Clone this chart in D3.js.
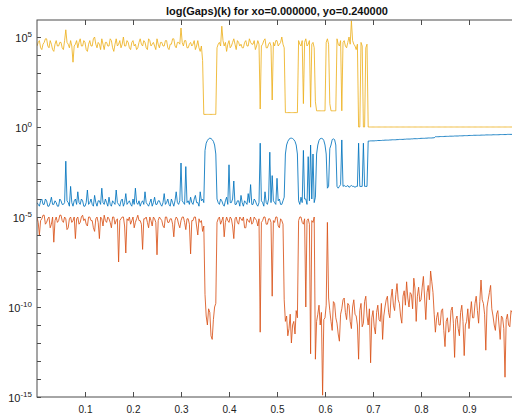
<!DOCTYPE html>
<html><head><meta charset="utf-8">
<script src="https://cdn.jsdelivr.net/npm/d3@7/dist/d3.min.js"></script>
<style>
html,body{margin:0;padding:0;background:#fff;}
svg{display:block;font-family:"Liberation Sans",Arial,Helvetica,sans-serif;}
</style></head>
<body><svg id="chart" width="512" height="415"></svg>
<script>
// Sampling of k (x axis)
const xStart = 0, xStep = 0.0025;
const xTicks = [0.1,0.2,0.3,0.4,0.5,0.6,0.7,0.8,0.9];
const yTickExps = [5,0,-5,-10,-15];
const titleText = "log(Gaps)(k) for xo=0.000000, yo=0.240000";
const seriesColors = ["#0072BD","#D95319","#EDB120"];

// log10 of the values
const blueLog10 = [
-4.2,-4.3,-4.4,-4.1,-4.0,-4.3,-4.3,-4.0,-4.1,-4.4,-4.4,-4.2,-3.9,-4.3,-4.3,-4.1,-4.2,-4.4,-4.4,-4.0,
-4.1,-4.3,-4.3,-4.2,-1.9,-4.1,-4.2,-4.4,-3.3,-4.2,-4.4,-4.1,-4.0,-4.3,-3.6,-4.2,-4.3,-4.0,-4.1,-4.4,
-4.4,-4.2,-3.5,-4.3,-4.2,-4.0,-4.3,-4.4,-3.8,-4.2,-4.4,-4.1,-4.1,-4.3,-3.4,-4.2,-4.3,-4.0,-4.2,-4.4,
-3.9,-4.3,-4.4,-4.1,-4.2,-4.3,-3.5,-4.2,-4.3,-4.4,-4.1,-4.0,-4.4,-4.2,-3.7,-4.3,-4.2,-4.1,-4.3,-4.4,
-4.0,-4.3,-3.4,-4.2,-4.3,-4.1,-4.4,-4.2,-4.1,-4.3,-3.6,-4.2,-4.3,-4.4,-4.2,-4.0,-4.4,-4.2,-3.9,-4.3,
-4.3,-4.1,-4.1,-4.3,-4.4,-4.2,-3.7,-4.3,-4.2,-4.0,-4.3,-4.4,-4.0,-4.2,-4.4,-4.1,-3.6,-4.2,-4.3,-4.1,
-2.0,-4.1,-4.2,-4.3,-2.2,-4.2,-4.1,-4.3,-3.9,-4.2,-4.3,-4.0,-3.8,-4.2,-4.2,-4.4,-3.6,-4.1,-4.0,-4.2,
-1.3,-0.9,-0.75,-0.66,-0.62,-0.64,-0.7,-0.8,-1.0,-1.5,-4.0,-4.2,-4.3,-4.0,-4.1,-4.3,-4.4,-4.1,-3.9,-4.3,
-2.1,-4.2,-4.2,-4.0,-3.0,-4.3,-4.3,-4.1,-4.1,-4.4,-3.8,-4.2,-4.4,-4.1,-4.2,-4.3,-3.7,-4.2,-3.2,-4.3,
-4.3,-4.0,-4.1,-4.3,-4.4,-4.2,-0.9,-4.1,-4.2,-4.4,-3.6,-4.2,-4.3,-4.0,-1.4,-4.2,-2.7,-4.1,-4.2,-4.3,
-2.85,-4.1,-4.0,-4.3,-4.3,-4.1,-3.9,-1.5,-1.0,-0.8,-0.68,-0.63,-0.62,-0.64,-0.7,-0.8,-1.0,-1.5,-4.1,-4.3,
-3.9,-4.2,-1.3,-4.0,-4.0,-4.3,-1.65,-4.1,-1.0,-4.0,-1.5,-4.2,-3.9,-1.5,-1.0,-0.75,-0.65,-0.63,-0.65,-0.75,
-1.0,-1.5,-3.4,-3.3,-1.2,-1.0,-0.7,-0.66,-0.7,-1.0,-3.3,-3.4,-3.3,-3.2,-0.72,-3.3,-3.25,-3.3,-3.3,-3.25,
-3.35,-3.3,-3.25,-3.3,-3.3,-3.35,-3.3,-3.3,-0.9,-3.3,-3.3,-3.3,-0.9,-3.3,-3.3,-3.3,-0.78,-0.78,-0.77,-0.77,
-0.77,-0.77,-0.76,-0.76,-0.75,-0.75,-0.75,-0.75,-0.74,-0.74,-0.73,-0.73,-0.73,-0.73,-0.72,-0.72,-0.71,-0.71,-0.71,-0.71,
-0.70,-0.70,-0.69,-0.69,-0.69,-0.69,-0.68,-0.68,-0.67,-0.67,-0.67,-0.67,-0.66,-0.66,-0.65,-0.65,-0.65,-0.65,-0.64,-0.64,
-0.63,-0.63,-0.63,-0.63,-0.62,-0.62,-0.61,-0.61,-0.61,-0.61,-0.60,-0.60,-0.54,-0.54,-0.54,-0.54,-0.53,-0.53,-0.53,-0.53,
-0.52,-0.52,-0.52,-0.52,-0.51,-0.51,-0.51,-0.51,-0.50,-0.50,-0.50,-0.50,-0.49,-0.49,-0.49,-0.49,-0.48,-0.48,-0.48,-0.48,
-0.47,-0.47,-0.47,-0.47,-0.46,-0.46,-0.46,-0.46,-0.46,-0.46,-0.45,-0.45,-0.45,-0.45,-0.44,-0.44,-0.44,-0.44,-0.44,-0.44,
-0.43,-0.43,-0.43,-0.43,-0.43,-0.43,-0.42,-0.42,-0.42,-0.42,-0.42,-0.42,-0.41,-0.41,-0.41,-0.41,-0.41,-0.41,-0.40,-0.40
];
const orangeLog10 = [
-5.0,-5.3,-6.0,-5.2,-5.1,-4.9,-4.9,-5.4,-5.3,-5.1,-5.0,-5.6,-5.4,-5.0,-6.4,-5.2,-5.0,-5.3,-5.2,-4.9,
-4.9,-5.2,-5.3,-5.0,-5.1,-5.7,-5.6,-5.1,-5.0,-5.3,-5.2,-5.0,-6.2,-5.1,-5.0,-5.4,-5.3,-5.0,-4.9,-5.2,
-5.1,-5.4,-5.5,-5.0,-5.0,-5.2,-5.2,-5.6,-5.8,-5.1,-5.0,-5.3,-6.2,-5.0,-5.1,-5.5,-4.9,-5.2,-5.3,-5.0,
-5.1,-5.3,-5.6,-5.0,-5.0,-5.4,-5.2,-5.1,-7.5,-5.2,-5.1,-5.0,-5.0,-5.5,-7.0,-5.1,-5.2,-5.0,-5.4,-5.2,
-5.0,-5.6,-5.3,-5.1,-4.9,-5.2,-5.2,-5.4,-6.8,-5.1,-5.1,-5.0,-5.3,-5.6,-5.0,-5.2,-5.5,-5.0,-5.1,-5.3,
-7.1,-5.2,-5.0,-5.1,-5.2,-5.5,-5.6,-5.0,-5.0,-5.3,-5.3,-5.1,-5.1,-5.4,-6.1,-5.2,-5.0,-5.1,-5.4,-5.6,
-5.2,-5.0,-5.0,-5.3,-5.7,-5.1,-5.1,-5.4,-7.05,-5.2,-5.2,-5.0,-5.0,-5.5,-6.0,-5.1,-5.3,-5.2,-5.8,-5.5,
-9.3,-10.5,-11.0,-10.1,-10.3,-11.6,-11.8,-10.7,-10.0,-9.8,-5.3,-5.1,-5.0,-5.4,-5.2,-5.0,-6.1,-5.3,-5.0,-5.2,
-5.3,-5.0,-5.1,-5.5,-6.2,-5.1,-5.0,-5.3,-5.4,-5.0,-5.1,-5.2,-5.0,-5.6,-5.6,-5.1,-5.2,-5.3,-5.0,-5.4,
-5.3,-5.0,-5.1,-5.2,-5.5,-5.1,-11.4,-5.3,-5.2,-5.0,-5.0,-5.4,-5.4,-5.1,-5.1,-5.3,-9.4,-5.2,-5.3,-5.0,
-5.0,-5.5,-5.6,-5.1,-5.2,-5.4,-9.6,-10.8,-10.5,-11.6,-11.2,-10.4,-12.0,-11.0,-10.8,-11.5,-10.2,-10.6,-5.2,-5.0,
-5.0,-5.3,-5.4,-5.1,-10.0,-5.2,-5.1,-5.4,-12.6,-5.2,-5.3,-5.0,-12.9,-10.8,-10.4,-9.9,-11.0,-10.3,-14.9,-10.7,
-10.6,-9.9,-5.3,-9.5,-10.2,-10.8,-11.3,-9.7,-9.8,-10.6,-10.9,-11.5,-11.9,-10.4,-10.1,-9.6,-9.5,-10.3,-10.7,-9.8,
-9.9,-10.8,-11.2,-10.0,-9.6,-10.4,-10.5,-11.0,-12.9,-10.2,-9.8,-11.1,-10.9,-9.7,-9.4,-10.5,-11.0,-10.1,-13.1,-10.6,
-10.2,-11.1,-11.5,-10.3,-9.9,-10.7,-10.8,-9.8,-11.8,-10.5,-10.0,-9.6,-9.4,-10.3,-10.6,-9.5,-9.0,-9.9,-10.2,-9.3,
-8.7,-9.6,-9.8,-10.5,-10.9,-9.4,-9.1,-9.9,-8.6,-9.5,-10.0,-9.2,-9.3,-10.1,-8.4,-9.0,-10.8,-9.4,-8.9,-9.7,
-9.6,-8.9,-8.3,-9.5,-10.7,-9.2,-8.8,-9.6,-8.0,-8.6,-9.2,-10.4,-11.4,-10.6,-10.3,-11.0,-11.0,-10.2,-10.1,-11.3,
-12.2,-10.8,-10.6,-11.4,-11.3,-10.2,-10.0,-10.9,-12.8,-10.7,-10.5,-11.2,-11.6,-10.3,-9.9,-10.8,-12.7,-11.0,-10.8,-10.1,
-11.2,-10.4,-9.7,-10.6,-10.6,-9.8,-9.4,-10.2,-10.9,-9.7,-8.5,-9.6,-9.8,-10.4,-12.4,-10.0,-9.6,-9.2,-8.8,-10.1,
-10.5,-11.0,-11.3,-10.4,-10.2,-11.0,-11.8,-10.5,-10.6,-11.2,-13.9,-10.7,-10.4,-11.0,-11.1,-10.2,-10.3,-10.9,-10.8,-10.5
];
const yellowLog10 = [
4.5,4.7,4.8,4.4,4.3,4.6,4.7,4.9,4.9,4.5,4.4,4.8,4.6,4.3,4.2,4.6,4.8,4.5,4.5,4.7,
4.7,4.4,4.3,4.8,5.4,4.7,4.6,4.4,4.8,4.5,3.6,4.5,4.6,4.8,4.4,4.7,4.9,4.5,4.5,4.8,
4.7,4.3,4.2,4.6,4.8,4.5,4.5,4.9,5.0,4.6,4.4,4.7,4.6,4.3,4.9,4.6,4.3,4.7,4.7,4.5,
4.5,4.9,4.8,4.4,4.2,4.6,4.9,4.5,4.6,4.8,4.4,4.6,5.0,4.5,4.5,4.8,4.7,4.4,4.3,4.7,
4.8,4.5,4.6,4.3,4.4,4.7,4.9,4.6,4.5,4.8,4.7,4.4,4.3,4.9,4.8,4.5,4.6,4.7,4.5,4.3,
4.9,4.6,4.4,4.7,4.7,4.5,4.5,4.8,4.8,4.4,4.3,4.6,4.6,4.9,4.9,4.5,4.4,4.7,4.7,4.6,
5.5,4.7,4.5,4.8,4.8,4.4,4.4,4.6,4.7,4.5,4.6,4.8,4.3,4.5,4.8,4.4,4.2,4.5,3.7,0.7,
0.7,0.7,0.7,0.7,0.7,0.7,0.7,0.7,0.7,0.7,4.4,4.6,4.7,4.5,5.6,4.8,4.5,4.7,4.2,4.6,
4.8,4.4,4.5,4.7,4.9,4.6,4.3,4.8,4.7,4.5,4.6,4.4,4.4,4.7,4.8,4.5,4.5,4.9,4.7,4.6,
4.6,4.8,4.3,4.5,4.8,4.6,1.0,4.5,4.6,4.8,4.9,4.4,4.4,4.6,4.7,4.5,1.5,4.7,4.5,4.8,
4.8,4.5,4.6,4.7,5.0,4.6,4.4,0.8,0.8,0.8,0.8,0.8,0.8,0.8,0.8,0.8,0.8,0.8,4.8,4.6,
4.5,4.8,1.3,4.7,4.9,4.5,4.6,4.8,1.1,4.6,4.7,4.4,1.4,0.9,0.9,0.9,0.9,0.9,0.9,0.9,
0.9,4.7,4.9,4.6,1.3,0.9,0.9,0.9,0.9,0.9,4.9,4.6,4.5,4.8,0.9,4.7,4.8,4.5,4.4,4.7,
5.0,4.6,5.9,4.8,4.6,4.5,4.3,4.6,0.0,0.0,4.7,4.5,0.0,0.0,4.4,4.6,0.0,0.0,0.0,0.0,
0,0,0,0,0,0,0,0,0,0,0,0,0,0,0,0,0,0,0,0,
0,0,0,0,0,0,0,0,0,0,0,0,0,0,0,0,0,0,0,0,
0,0,0,0,0,0,0,0,0,0,0,0,0,0,0,0,0,0,0,0,
0,0,0,0,0,0,0,0,0,0,0,0,0,0,0,0,0,0,0,0,
0,0,0,0,0,0,0,0,0,0,0,0,0,0,0,0,0,0,0,0,
0,0,0,0,0,0,0,0,0,0,0,0,0,0,0,0,0,0,0,0
];

const svg = d3.select("#chart");
const L = 37, R = 517, T = 20, B = 397;
const x = d3.scaleLinear().domain([0, 1]).range([L, R]);
const y = d3.scaleLog().domain([1e-15, 1e5]).range([B, 37]);
const axisColor = "#4d4d4d";

svg.append("defs").append("clipPath").attr("id","clip")
  .append("rect").attr("x",L).attr("y",T).attr("width",R-L).attr("height",B-T);

// title
svg.append("text").attr("x",(L+R)/2).attr("y",15).attr("text-anchor","middle")
  .attr("font-size",11).attr("font-weight","bold").attr("fill","#111").text(titleText);

// data lines
const allSeries = [blueLog10, orangeLog10, yellowLog10];
const line = d3.line().x(d => x(d[0])).y(d => y(d[1]));
const g = svg.append("g").attr("clip-path","url(#clip)");
allSeries.forEach((s, si) => {
  const pts = s.map((e, i) => [xStart + i * xStep, Math.pow(10, e)]);
  g.append("path").datum(pts).attr("d", line).attr("fill","none")
    .attr("stroke", seriesColors[si]).attr("stroke-width",0.85).attr("stroke-linejoin","round");
});

// axes (box) with inward ticks
const bottomAxis = d3.axisBottom(x).tickValues(xTicks).tickSizeInner(-5).tickSizeOuter(0).tickPadding(9).tickFormat(d3.format(".1f"));
const topAxis = d3.axisTop(x).tickValues(xTicks).tickSizeInner(-5).tickSizeOuter(0).tickFormat("");
const decades = d3.range(-15, 6).map(e => Math.pow(10, e));
const leftAxis = d3.axisLeft(y).tickValues(decades).tickSizeInner(-4).tickSizeOuter(0).tickFormat("");
const rightAxis = d3.axisRight(y).tickValues(decades).tickSizeInner(-4).tickSizeOuter(0).tickFormat("");

function style(sel){
  sel.select(".domain").remove();
  sel.selectAll("line").attr("stroke",axisColor);
  sel.selectAll("text").attr("fill","#222").attr("font-size",10).attr("font-family","Liberation Sans, Arial, sans-serif");
}
svg.append("g").attr("transform",`translate(0,${B})`).call(bottomAxis).call(style);
svg.append("g").attr("transform",`translate(0,${T})`).call(topAxis).call(style);
svg.append("g").attr("transform",`translate(${L},0)`).call(leftAxis).call(style);
svg.append("g").attr("transform",`translate(${R},0)`).call(rightAxis).call(style);

// frame
svg.append("rect").attr("x",L).attr("y",T).attr("width",R-L).attr("height",B-T)
  .attr("fill","none").attr("stroke",axisColor).attr("stroke-width",1);

// y tick labels 10^n
const yl = svg.append("g");
yTickExps.forEach(e => {
  const t = yl.append("text").attr("x",32).attr("y",y(Math.pow(10,e))+5)
    .attr("text-anchor","end").attr("font-size",11).attr("fill","#222");
  t.append("tspan").text("10");
  t.append("tspan").attr("dy",-5).attr("font-size",8).text(String(e));
});
</script></body></html>
